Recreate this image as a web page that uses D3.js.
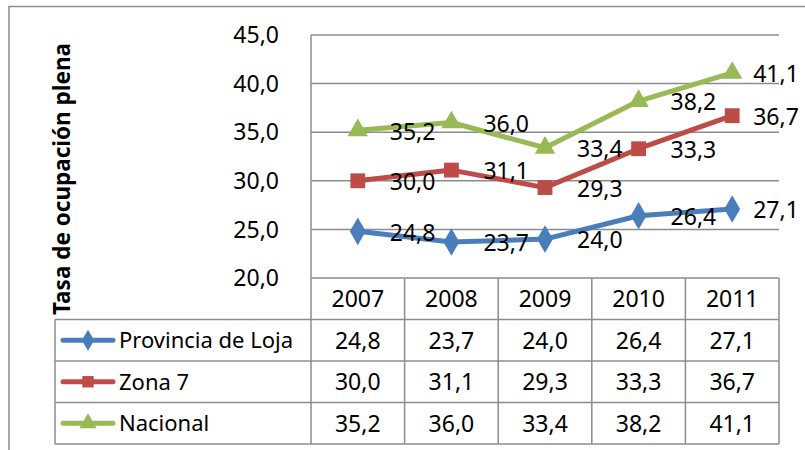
<!DOCTYPE html>
<meta charset="utf-8">
<title>Tasa de ocupación plena</title>
<style>
  body { margin: 0; background: #fff; }
  svg text { font-family: "Noto Sans", "Open Sans", sans-serif; fill: #000; }
</style>
<svg width="805" height="450"></svg>
<script src="https://d3js.org/d3.v7.min.js"></script>
<script>

// data
var years = ["2007", "2008", "2009", "2010", "2011"];
var loja = [24.8, 23.7, 24.0, 26.4, 27.1];
var zona7 = [30.0, 31.1, 29.3, 33.3, 36.7];
var nacional = [35.2, 36.0, 33.4, 38.2, 41.1];
var yTicks = [20, 25, 30, 35, 40, 45];

var seriesNames = ["Provincia de Loja", "Zona 7", "Nacional"];
var seriesValues = [loja, zona7, nacional];
var colors = ["#4a7ebb", "#be4b48", "#98b954"];
var shapes = [d3.symbolDiamond, d3.symbolSquare, d3.symbolTriangle];

var svg = d3.select("svg");
var fmt = function(v) { return d3.format(".1f")(v).replace(".", ","); };
var gridColor = "#8c8c8c";

var plotLeft = 311, plotRight = 779, plotTop = 35, plotBottom = 278;
var rowH = 41.5, legendLeft = 55;

var x = d3.scaleBand().domain(years).range([plotLeft, plotRight]);
var y = d3.scaleLinear().domain([20, 45]).range([plotBottom, plotTop]);

// outer frame (top and left edges visible)
svg.append("path")
    .attr("d", "M9,450 V6.5 H805")
    .attr("fill", "none")
    .attr("stroke", gridColor)
    .attr("stroke-width", 1.5);

// gridlines
svg.append("g").selectAll("line")
  .data(yTicks)
  .enter().append("line")
    .attr("x1", plotLeft).attr("x2", plotRight)
    .attr("y1", function(d) { return y(d); })
    .attr("y2", function(d) { return y(d); })
    .attr("stroke", gridColor)
    .attr("stroke-width", 1.5);

// y tick labels
svg.append("g").selectAll("text")
  .data(yTicks)
  .enter().append("text")
    .attr("x", 279)
    .attr("y", function(d) { return y(d); })
    .attr("dy", "0.36em")
    .attr("text-anchor", "end")
    .style("font-size", "23px")
    .text(fmt);

// y axis title
svg.append("text")
    .attr("transform", "translate(70,179) rotate(-90)")
    .attr("text-anchor", "middle")
    .style("font-size", "22.5px")
    .style("font-weight", "bold")
    .text("Tasa de ocupación plena");

// data table lines
var tableBottom = plotBottom + rowH * 4;
var tg = svg.append("g").attr("stroke", gridColor).attr("stroke-width", 1.5);
tg.append("line").attr("x1", plotLeft).attr("x2", plotLeft).attr("y1", plotTop).attr("y2", tableBottom);
years.forEach(function(yr) {
  tg.append("line")
    .attr("x1", x(yr) + x.bandwidth()).attr("x2", x(yr) + x.bandwidth())
    .attr("y1", plotBottom).attr("y2", tableBottom);
});
d3.range(1, 5).forEach(function(r) {
  tg.append("line")
    .attr("x1", legendLeft).attr("x2", plotRight)
    .attr("y1", plotBottom + r * rowH).attr("y2", plotBottom + r * rowH);
});
tg.append("line").attr("x1", legendLeft).attr("x2", legendLeft)
  .attr("y1", plotBottom + rowH).attr("y2", tableBottom);

// header row
svg.append("g").selectAll("text")
  .data(years)
  .enter().append("text")
    .attr("x", function(d) { return x(d) + x.bandwidth() / 2; })
    .attr("y", plotBottom + rowH / 2)
    .attr("dy", "0.36em")
    .attr("text-anchor", "middle")
    .style("font-size", "23px")
    .text(function(d) { return d; });

// table value rows + legend keys
seriesValues.forEach(function(vals, i) {
  var rowY = plotBottom + rowH * (i + 1) + rowH / 2;
  svg.append("g").selectAll("text")
    .data(vals)
    .enter().append("text")
      .attr("x", function(d, j) { return x(years[j]) + x.bandwidth() / 2; })
      .attr("y", rowY)
      .attr("dy", "0.36em")
      .attr("text-anchor", "middle")
      .style("font-size", "23px")
      .text(fmt);

  svg.append("line")
    .attr("x1", 63).attr("x2", 113)
    .attr("y1", rowY).attr("y2", rowY)
    .attr("stroke", colors[i])
    .attr("stroke-width", 5)
    .attr("stroke-linecap", "round");
  svg.append("path")
    .attr("transform", "translate(88," + rowY + ")")
    .attr("d", d3.symbol().type(shapes[i]).size(130)())
    .attr("fill", colors[i]);

  svg.append("text")
    .attr("x", 119)
    .attr("y", rowY)
    .attr("dy", "0.36em")
    .style("font-size", "22px")
    .text(seriesNames[i]);
});

// lines, markers and data labels
var line = d3.line()
    .x(function(d, j) { return x(years[j]) + x.bandwidth() / 2; })
    .y(function(d) { return y(d); });

seriesValues.forEach(function(vals, i) {
  svg.append("path")
    .attr("d", line(vals))
    .attr("fill", "none")
    .attr("stroke", colors[i])
    .attr("stroke-width", 5)
    .attr("stroke-linejoin", "round");

  svg.append("g").selectAll("path")
    .data(vals)
    .enter().append("path")
      .attr("transform", function(d, j) {
        return "translate(" + (x(years[j]) + x.bandwidth() / 2) + "," + y(d) + ")";
      })
      .attr("d", d3.symbol().type(shapes[i]).size(i == 2 ? 180 : 220)())
      .attr("fill", colors[i]);

  svg.append("g").selectAll("text")
    .data(vals)
    .enter().append("text")
      .attr("x", function(d, j) {
        return x(years[j]) + x.bandwidth() / 2 + (j == years.length - 1 ? 21 : 32);
      })
      .attr("y", function(d) { return y(d) + 1; })
      .attr("dy", "0.36em")
      .style("font-size", "23px")
      .text(fmt);
});

</script>
